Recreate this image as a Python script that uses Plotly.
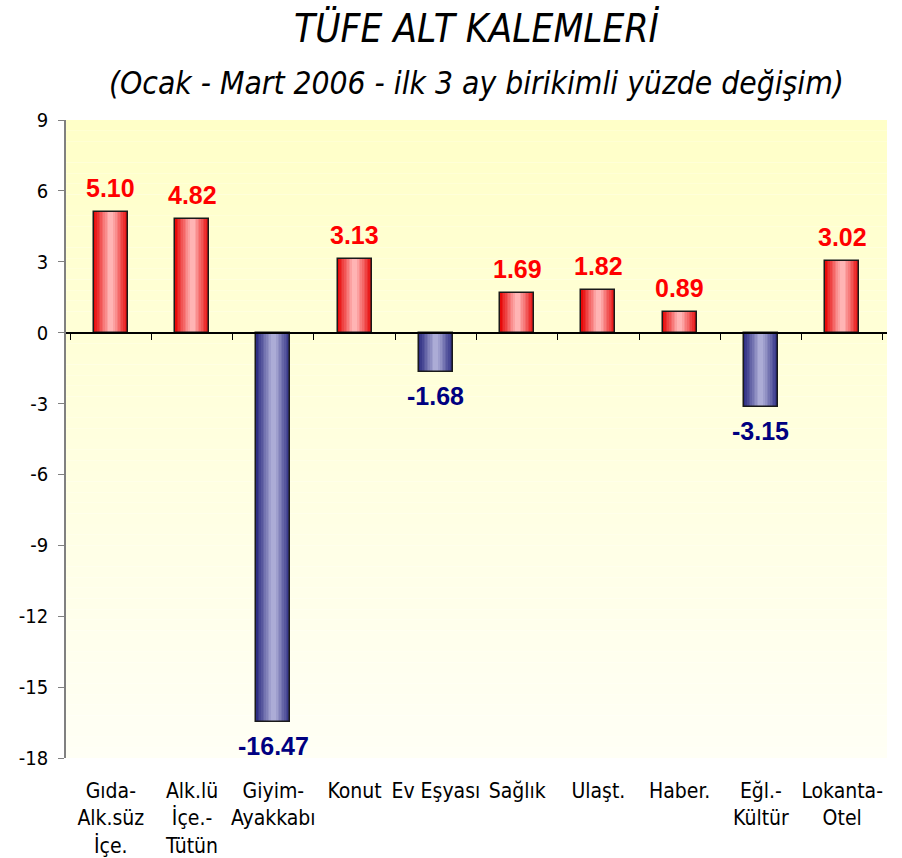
import plotly.graph_objects as go

categories = ["Gıda-<br>Alk.süz<br>İçe.", "Alk.lü<br>İçe.-<br>Tütün", "Giyim-<br>Ayakkabı", "Konut",
              "Ev Eşyası", "Sağlık", "Ulaşt.", "Haber.", "Eğl.-<br>Kültür", "Lokanta-<br>Otel"]
values = [5.10, 4.82, -16.47, 3.13, -1.68, 1.69, 1.82, 0.89, -3.15, 3.02]
y_ticks = [9, 6, 3, 0, -3, -6, -9, -12, -15, -18]

title_text = "TÜFE ALT KALEMLERİ"
subtitle_text = "(Ocak - Mart 2006 - ilk 3 ay birikimli yüzde değişim)"

pos_edge = (230, 10, 10)
pos_mid = (255, 180, 180)
neg_edge = (45, 45, 130)
neg_mid = (172, 172, 214)

FONT = "DejaVu Sans Condensed, DejaVu Sans"

def blend(a, b, t):
    return "rgb(%d,%d,%d)" % tuple(round(a[i] + (b[i] - a[i]) * t) for i in range(3))

fig = go.Figure()

n_layers = 10
full_w = 0.42
for k in range(n_layers):
    t = k / (n_layers - 1)
    w = full_w * (1 - 0.85 * t)
    colors = [blend(pos_edge, pos_mid, t) if v >= 0 else blend(neg_edge, neg_mid, t) for v in values]
    fig.add_trace(go.Bar(
        x=categories, y=values, width=w,
        marker=dict(color=colors, line=dict(width=0)),
        hoverinfo="skip" if k else "x+y", showlegend=False,
    ))

# invisible trace for the axis drawn through zero
fig.add_trace(go.Scatter(x=categories, y=[0] * len(categories), xaxis="x2", mode="markers",
                         marker=dict(opacity=0), showlegend=False, hoverinfo="skip"))

# outline on top
fig.add_trace(go.Bar(x=categories, y=values, width=full_w,
                     marker=dict(color="rgba(0,0,0,0)", line=dict(color="#1a1a1a", width=1.5)),
                     hoverinfo="skip", showlegend=False))

for c, v in zip(categories, values):
    fig.add_annotation(x=c, y=v, text="%.2f" % v, showarrow=False,
                       yanchor="bottom" if v >= 0 else "top",
                       yshift=8 if v >= 0 else -8,
                       font=dict(family="Liberation Sans, Arial", size=25,
                                 color="#FF0000" if v >= 0 else "#000080", weight="bold"))

ymin, ymax = -18, 9
n_strips = 60
top_c = (255, 255, 200)
bot_c = (255, 255, 245)
for i in range(n_strips):
    t = i / (n_strips - 1)
    fig.add_shape(type="rect", xref="x domain", yref="y domain",
                  x0=0, x1=1, y0=1 - (i + 1) / n_strips, y1=1 - i / n_strips,
                  fillcolor=blend(top_c, bot_c, t), line=dict(width=0), layer="below")

fig.add_annotation(text=title_text, xref="paper", yref="paper", x=0.5, y=1, yanchor="bottom",
                   xanchor="center", yshift=67, showarrow=False,
                   font=dict(family=FONT, size=38.5, color="black", style="italic"))
fig.add_annotation(text=subtitle_text, xref="paper", yref="paper", x=0.5, y=1, yanchor="bottom",
                   xanchor="center", yshift=17, showarrow=False,
                   font=dict(family=FONT, size=31.5, color="black", style="italic"))

fig.update_layout(
    width=902, height=858,
    margin=dict(l=66, r=15, t=120, b=100, autoexpand=False),
    paper_bgcolor="white", plot_bgcolor="rgba(0,0,0,0)",
    barmode="overlay", bargap=0,
    xaxis=dict(type="category", showline=False, ticks="", showgrid=False, zeroline=False,
               tickfont=dict(family=FONT, size=21, color="black"), automargin=False,
               ticklabelstandoff=18, fixedrange=True),
    xaxis2=dict(type="category", overlaying="x", matches="x", anchor="free", position=(0 - ymin) / (ymax - ymin),
                side="bottom", showline=True, linecolor="black", linewidth=1.5,
                ticks="outside", tickson="boundaries", ticklen=7, tickcolor="black", automargin=False,
                showticklabels=False, showgrid=False, zeroline=False),
    yaxis=dict(range=[ymin, ymax], tickvals=y_ticks, ticktext=[str(v) for v in y_ticks],
               showline=True, linecolor="#808080", linewidth=1.5, ticks="outside", ticklen=6,
               tickcolor="#808080", showgrid=False, zeroline=False, automargin=False,
               ticklabelstandoff=6,
               tickfont=dict(family=FONT, size=20, color="black")),
)

fig.write_html("out.html", config={"displayModeBar": False},
               post_script="document.body.style.margin='0';document.body.style.padding='0';")
